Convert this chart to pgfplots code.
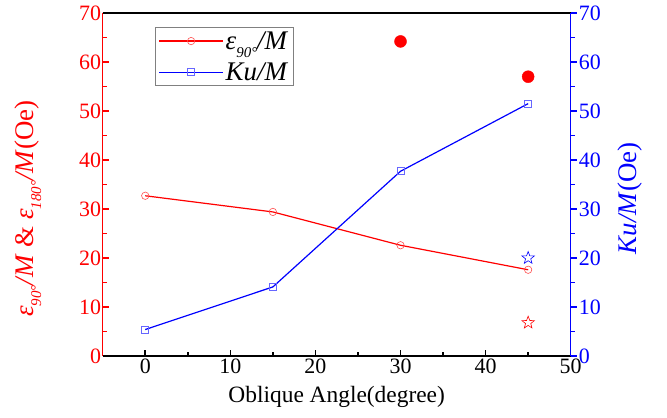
\documentclass[border=0pt]{standalone}
\usepackage{fontspec}
\setmainfont{Liberation Serif}
\usepackage{pgfplots}
\pgfplotsset{compat=1.18}
\usetikzlibrary{plotmarks}

\newcommand{\sub}[1]{\raisebox{-0.3em}{\fontsize{15}{15}\selectfont\itshape #1}}
\newcommand{\eps}[1]{\textit{ε}\sub{#1°}}

% open five-pointed star
\pgfdeclareplotmark{ostar}{%
  \pgfpathmoveto{\pgfpointpolar{90}{\pgfplotmarksize}}%
  \pgfpathlineto{\pgfpointpolar{126}{0.42\pgfplotmarksize}}%
  \pgfpathlineto{\pgfpointpolar{162}{\pgfplotmarksize}}%
  \pgfpathlineto{\pgfpointpolar{198}{0.42\pgfplotmarksize}}%
  \pgfpathlineto{\pgfpointpolar{234}{\pgfplotmarksize}}%
  \pgfpathlineto{\pgfpointpolar{270}{0.42\pgfplotmarksize}}%
  \pgfpathlineto{\pgfpointpolar{306}{\pgfplotmarksize}}%
  \pgfpathlineto{\pgfpointpolar{342}{0.42\pgfplotmarksize}}%
  \pgfpathlineto{\pgfpointpolar{18}{\pgfplotmarksize}}%
  \pgfpathlineto{\pgfpointpolar{54}{0.42\pgfplotmarksize}}%
  \pgfpathclose\pgfusepathqstroke}

\begin{document}
\begin{tikzpicture}
\useasboundingbox (-102.7bp,-62bp) rectangle (564.3bp,356bp);
\pgfplotsset{
  common/.style={
    scale only axis, width=468bp, height=343bp,
    xmin=-5, xmax=50, ymin=0, ymax=70,
    ytick={0,10,...,70},
    minor y tick num=1,
    major tick length=6bp, minor tick length=4bp,
    every tick/.append style={line width=1.5bp},
    tick label style={font=\fontsize{22}{26}\selectfont},
    /pgf/number format/assume math mode=true,
    label style={font=\fontsize{27}{30}\selectfont},
  }
}
\begin{axis}[common,
  axis x line*=bottom, axis y line*=left,
  xtick={0,10,...,50}, minor x tick num=1,
  tick align=inside,
  x axis line style={black, line width=1.5bp, -},
  y axis line style={red, line width=1.5bp, -},
  xtick style={black}, ytick style={red},
  yticklabel style={red, inner xsep=1.5bp},
  xticklabel style={inner ysep=3bp},
  xlabel={Oblique Angle(degree)},
  xlabel style={font=\fontsize{23.5}{28}\selectfont, inner ysep=1bp, yshift=-8bp},
  ylabel={\eps{90}\textit{/M} \& \eps{180}\textit{/M}(Oe)},
  ylabel style={red, at={(axis description cs:-0.16,0.43)}, anchor=center},
  legend style={at={(0.112,0.959)}, anchor=north west, draw=gray, line width=0.8bp,
    font=\fontsize{27}{30}\selectfont, row sep=8bp, inner xsep=3bp, inner ysep=2bp},
  legend cell align=left,
  legend image code/.code={\draw[mark repeat=2, mark phase=2, #1]
    plot coordinates {(0bp,0bp)(32bp,0bp)(64bp,0bp)};},
]
\addplot[red, line width=1.2bp, mark=o, mark size=3.7bp,
  mark options={draw=red!70, line width=0.6bp, fill=white}] coordinates {
  (0,32.7) (15,29.4) (30,22.6) (45,17.6)
};
\addlegendentry{\eps{90}\textit{/M}}
\addlegendimage{blue, line width=1.2bp, mark=square, mark size=3.5bp,
  mark options={draw=blue!60, line width=0.6bp, fill=white}}
\addlegendentry{\textit{Ku/M}}
\addplot[only marks, red, mark=*, mark size=6bp] coordinates {
  (30,64.2) (45,57.0)
};
\addplot[only marks, red, mark=ostar, mark size=6.5bp, line width=0.6bp] coordinates {
  (45,6.8)
};
\end{axis}
\begin{axis}[common,
  axis x line*=top, axis y line*=right,
  xtick=\empty,
  tick align=outside,
  x axis line style={black, line width=1.5bp, -},
  y axis line style={blue, line width=1.5bp, -},
  ytick style={blue},
  yticklabel style={blue, inner xsep=2bp},
  ylabel={\textit{Ku/M}(Oe)},
  ylabel style={blue, at={(axis description cs:1.126,0.46)}, anchor=center},
]
\addplot[blue, line width=1.2bp, mark=square, mark size=3.5bp,
  mark options={draw=blue!60, line width=0.6bp, fill=white}] coordinates {
  (0,5.4) (15,14.1) (30,37.7) (45,51.5)
};
\addplot[only marks, blue, mark=ostar, mark size=6.5bp, line width=0.6bp] coordinates {
  (45,20.0)
};
\end{axis}
\end{tikzpicture}
\end{document}
